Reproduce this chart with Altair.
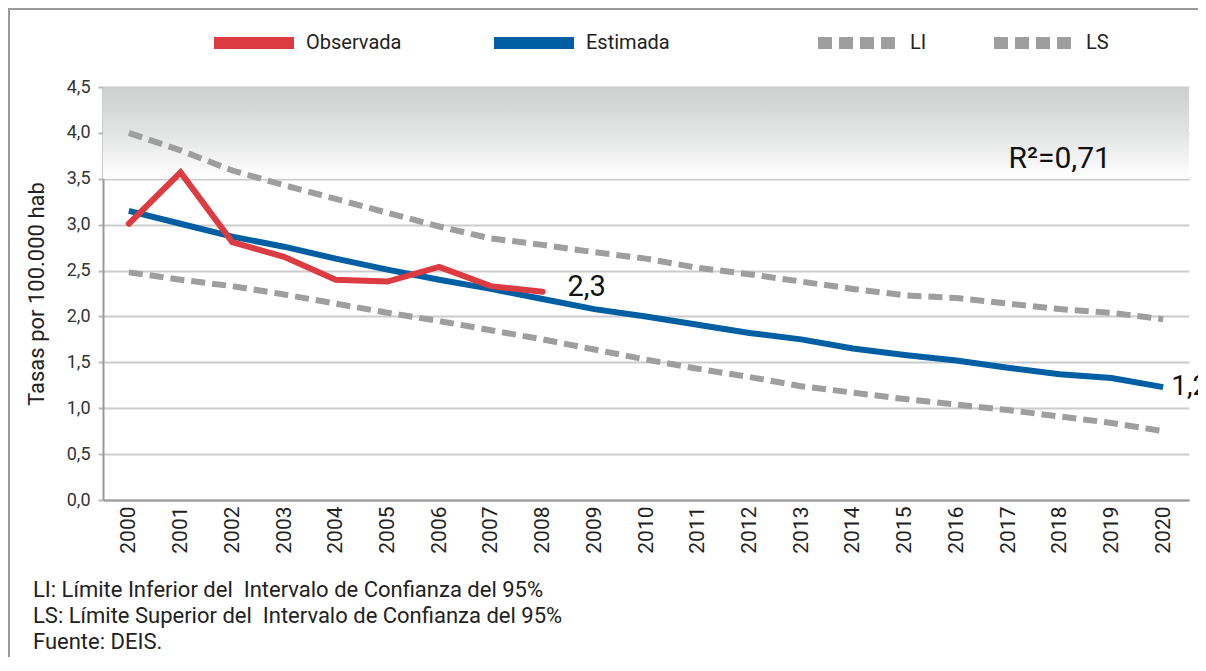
import altair as alt
import pandas as pd

years = [str(y) for y in range(2000, 2021)]
observada = [3.01, 3.57, 2.81, 2.65, 2.40, 2.38, 2.54, 2.33, 2.27]
estimada = [3.15, 3.01, 2.87, 2.76, 2.63, 2.51, 2.40, 2.30, 2.19, 2.08, 2.00,
             1.91, 1.82, 1.75, 1.65, 1.58, 1.52, 1.44, 1.37, 1.33, 1.23]
ls_vals = [4.00, 3.81, 3.59, 3.43, 3.28, 3.13, 2.98, 2.85, 2.78, 2.70, 2.63,
           2.53, 2.46, 2.38, 2.30, 2.23, 2.20, 2.14, 2.08, 2.04, 1.97]
li_vals = [2.48, 2.40, 2.33, 2.24, 2.14, 2.04, 1.95, 1.85, 1.75, 1.64, 1.53,
           1.43, 1.34, 1.24, 1.17, 1.10, 1.04, 0.98, 0.91, 0.84, 0.75]
obs_label = {"year": "2008", "value": 2.27, "label": "2,3"}
est_label = {"year": "2020", "value": 1.23, "label": "1,2"}
r2_label = {"year": "2018", "value": 3.72, "label": "R²=0,71"}
footer = ["LI: Límite Inferior del\u00a0 Intervalo de Confianza del 95%",
          "LS: Límite Superior del\u00a0 Intervalo de Confianza del 95%",
          "Fuente: DEIS."]

FONT = "Roboto"
RED = "#dc3b42"
BLUE = "#005fa2"
GRAY = "#9e9e9e"

obs_df = pd.DataFrame({"year": years[:len(observada)], "value": observada, "serie": "Observada"})
est_df = pd.DataFrame({"year": years, "value": estimada, "serie": "Estimada"})
lim_df = pd.concat([
    pd.DataFrame({"year": years, "value": li_vals, "limite": "LI"}),
    pd.DataFrame({"year": years, "value": ls_vals, "limite": "LS"}),
])
band_df = pd.DataFrame({"top": [4.5], "bot": [3.5]})

x_enc = alt.X("year:O", scale=alt.Scale(domain=years, padding=0.5),
              axis=alt.Axis(title=None, labelAngle=-90, labelFontSize=21, labelColor="#222",
                            labelFont=FONT, labelPadding=6, ticks=False,
                            domainColor="#999", domainWidth=2, labelBaseline="middle"))
y_scale = alt.Scale(domain=[0, 4.5], nice=False)
y_axis = alt.Axis(title="Tasas por 100.000 hab", titleFontSize=22, titleFont=FONT,
                  titleFontWeight="normal", titleColor="#222", titlePadding=18,
                  values=[0, 0.5, 1, 1.5, 2, 2.5, 3, 3.5, 4, 4.5],
                  labelExpr="replace(format(datum.value, '.1f'), '.', ',')",
                  labelFontSize=18, labelFont=FONT, labelColor="#333", labelPadding=8,
                  tickSize=5, tickColor="#bbb", tickWidth=2,
                  gridColor="#cccccc", gridWidth=2, domainColor="#999", domainWidth=2)

gradient = alt.Chart(band_df).mark_rect(
    color=alt.LinearGradient(gradient="linear",
                             stops=[alt.GradientStop(color="#cdcece", offset=0),
                                    alt.GradientStop(color="#e0e1e1", offset=0.45),
                                    alt.GradientStop(color="#ffffff", offset=1)],
                             x1=0, x2=0, y1=0, y2=1)
).encode(
    x=alt.value(0), x2=alt.value("width"),
    y=alt.Y("top:Q", scale=y_scale, axis=y_axis), y2="bot:Q"
)

frame_left = alt.Chart(band_df).mark_rule(stroke="#999", strokeWidth=2).encode(
    x=alt.value(-94), y=alt.value(-79), y2=alt.value(700)
)
frame_top = alt.Chart(band_df).mark_rule(stroke="#999", strokeWidth=2).encode(
    x=alt.value(-95), x2=alt.value(1300), y=alt.value(-78)
)

limits = alt.Chart(lim_df).mark_line(strokeWidth=6, color=GRAY).encode(
    x=x_enc,
    y=alt.Y("value:Q", scale=y_scale, axis=y_axis),
    strokeDash=alt.StrokeDash("limite:N",
                              scale=alt.Scale(domain=["LI", "LS"], range=[[14, 7], [14, 7]]),
                              legend=alt.Legend(title=None, orient="none", legendX=709, legendY=-90,
                                                direction="horizontal", symbolType="stroke",
                                                symbolSize=6400, symbolStrokeWidth=12,
                                                symbolStrokeColor=GRAY, labelFontSize=20,
                                                labelFont=FONT, labelColor="#222",
                                                labelOffset=6, columnPadding=43)),
)

color_scale = alt.Scale(domain=["Observada", "Estimada"], range=[RED, BLUE])
color_legend = alt.Legend(title=None, orient="none", legendX=105, legendY=-90,
                          direction="horizontal", symbolType="stroke",
                          symbolSize=6400, symbolStrokeWidth=12, labelFontSize=20,
                          labelFont=FONT, labelColor="#222", labelOffset=6,
                          columnPadding=68)

est = alt.Chart(est_df).mark_line(strokeWidth=6).encode(
    x=x_enc, y=alt.Y("value:Q", scale=y_scale),
    color=alt.Color("serie:N", scale=color_scale, legend=color_legend),
)
obs = alt.Chart(obs_df).mark_line(strokeWidth=6, strokeCap="round", strokeJoin="miter").encode(
    x=x_enc, y=alt.Y("value:Q", scale=y_scale),
    color=alt.Color("serie:N", scale=color_scale, legend=color_legend),
)


def value_text(d, size, dx, dy, align="left"):
    return alt.Chart(pd.DataFrame([d])).mark_text(
        align=align, baseline="middle", fontSize=size, font=FONT, color="#111", dx=dx, dy=dy
    ).encode(x=x_enc, y=alt.Y("value:Q", scale=y_scale), text="label:N")


lab_obs = value_text(obs_label, 29, 25, -5)
lab_est = value_text(est_label, 28, 8, 0)
r2 = value_text(r2_label, 30, 0, 0, align="center")

foot = alt.Chart(pd.DataFrame({"t": ["\n".join(footer)]})).mark_text(
    align="left", baseline="top", fontSize=22, font=FONT, color="#222",
    lineBreak="\n", lineHeight=26
).encode(x=alt.value(-70), y=alt.value(493), text="t:N")

chart = alt.layer(frame_left, frame_top, gradient, limits, est, obs,
                  lab_obs, lab_est, r2, foot).properties(
    width=1086, height=413,
    padding={"left": 95, "top": 79, "right": 9, "bottom": 157},
    autosize=alt.AutoSizeParams(type="none"),
).resolve_scale(strokeDash="independent").configure_view(stroke=None)

chart.save("out.html", embed_options={"renderer": "svg", "actions": False})
